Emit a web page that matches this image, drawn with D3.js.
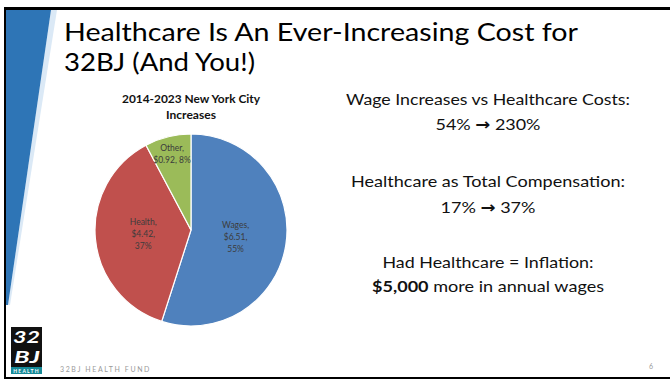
<!DOCTYPE html>
<html lang="en">
<head>
    <meta charset="UTF-8">
    <title>Healthcare Is An Ever-Increasing Cost</title>
    <script src="https://d3js.org/d3.v7.min.js"></script>
    <style>
        body { margin: 0; background: #fff; }
        svg { display: block; font-family: Lato, "Open Sans", sans-serif; }
        .slide-title { font-size: 25px; font-weight: 400; fill: #000; }
        .chart-title { font-size: 10.5px; font-weight: bold; fill: #111; }
        .slice-label { font-size: 8.5px; fill: #3c3c3c; }
        .note { font-size: 16px; fill: #111; }
        .footer { font-size: 7px; fill: #9a9a9a; letter-spacing: 1.6px; }
    </style>
</head>
<body>
    <svg width="670" height="381"></svg>

    <script>
        // pie data
        const categories = ["Wages", "Health", "Other"];
        const amounts = [6.51, 4.42, 0.92];
        const percents = ["55%", "37%", "8%"];
        const colors = ["#4f81bd", "#c0504d", "#9bbb59"];

        const titleLines = ["Healthcare Is An Ever-Increasing Cost for", "32BJ (And You!)"];
        const chartTitle = ["2014-2023 New York City", "Increases"];

        // text blocks on the right ("|" splits bold part, "^" marks the arrow)
        const notes = [
            ["Wage Increases vs Healthcare Costs:", "54% ^ 230%"],
            ["Healthcare as Total Compensation:", "17% ^ 37%"],
            ["Had Healthcare = Inflation:", "$5,000| more in annual wages"]
        ];

        const svg = d3.select("svg");

        // slide frame: top, left and bottom rules
        svg.append("rect").attr("x", 5).attr("y", 7).attr("width", 665).attr("height", 3).attr("fill", "#000");
        svg.append("rect").attr("x", 4).attr("y", 7).attr("width", 2).attr("height", 372).attr("fill", "#000");
        svg.append("rect").attr("x", 4).attr("y", 377).attr("width", 666).attr("height", 2).attr("fill", "#000");

        // blue wedge on the left
        svg.append("polygon")
            .attr("points", "51,10 57,10 10,305 8,305")
            .attr("fill", "#dbe9f6");
        svg.append("polygon")
            .attr("points", "6,10 51,10 8,305 6,305")
            .attr("fill", "#2e75b6");

        // slide title
        const titleW = [514, 191];
        svg.selectAll(".slide-title")
            .data(titleLines)
            .enter().append("text")
            .attr("class", "slide-title")
            .attr("x", 64)
            .attr("y", (d, i) => 41 + i * 30)
            .attr("textLength", (d, i) => titleW[i])
            .attr("lengthAdjust", "spacingAndGlyphs")
            .text(d => d);

        // pie chart
        const cx = 191, cy = 230, radius = 96;
        const g = svg.append("g").attr("transform", `translate(${cx},${cy})`);

        const pie = d3.pie().sort(null).value(d => d.value);
        const rows = categories.map((c, i) => ({name: c, value: amounts[i], pct: percents[i], color: colors[i]}));
        const arcs = pie(rows);
        const arc = d3.arc().innerRadius(0).outerRadius(radius);

        g.selectAll("path")
            .data(arcs)
            .enter().append("path")
            .attr("d", arc)
            .attr("fill", d => d.data.color)
            .attr("stroke", "#fff")
            .attr("stroke-width", 1.2);

        // label distance from centre (fraction of radius), like Excel's best fit
        const labelRadius = {Wages: 0.47, Health: 0.5, Other: 0.82};
        const labelLines = d => d.data.name === "Other"
            ? [d.data.name + ",", "$" + d.data.value.toFixed(2) + ", " + d.data.pct]
            : [d.data.name + ",", "$" + d.data.value.toFixed(2) + ",", d.data.pct];

        arcs.forEach(d => {
            const r = radius * labelRadius[d.data.name];
            const [lx, ly] = d3.arc().innerRadius(r).outerRadius(r).centroid(d);
            const lines = labelLines(d);
            const t = g.append("text")
                .attr("class", "slice-label")
                .attr("text-anchor", "middle")
                .attr("x", lx)
                .attr("y", ly - (lines.length - 1) * 6 + 3);
            lines.forEach((l, i) => {
                t.append("tspan").attr("x", lx).attr("dy", i === 0 ? 0 : 12).text(l);
            });
        });

        const chartTitleW = [138, 50];
        svg.selectAll(".chart-title")
            .data(chartTitle)
            .enter().append("text")
            .attr("class", "chart-title")
            .attr("x", cx)
            .attr("y", (d, i) => 103 + i * 16)
            .attr("text-anchor", "middle")
            .attr("textLength", (d, i) => chartTitleW[i])
            .attr("lengthAdjust", "spacingAndGlyphs")
            .text(d => d);

        // right side notes
        const noteX = 488;
        const noteY = [105, 130, 187, 213, 268, 292];
        const noteW = [284, 105, 274, 95, 211, 232];
        notes.flat().forEach((line, i) => {
            const t = svg.append("text")
                .attr("class", "note")
                .attr("x", noteX)
                .attr("y", noteY[i])
                .attr("text-anchor", "middle")
                .attr("textLength", noteW[i])
                .attr("lengthAdjust", "spacingAndGlyphs");
            if (line.includes("|")) {
                const parts = line.split("|");
                t.append("tspan").attr("font-weight", "bold").text(parts[0]);
                t.append("tspan").text(parts[1]);
            } else if (line.includes("^")) {
                const parts = line.split("^");
                t.append("tspan").text(parts[0]);
                t.append("tspan").attr("font-family", "DejaVu Sans").attr("font-weight", "bold").text("\u2192");
                t.append("tspan").text(parts[1]);
            } else {
                t.text(line);
            }
        });

        // footer logo
        const logo = svg.append("g").attr("transform", "translate(11,327)");
        logo.append("rect").attr("width", 31).attr("height", 40).attr("fill", "#111");
        logo.append("text")
            .attr("x", 2).attr("y", 16)
            .attr("font-size", 17).attr("font-weight", "bold").attr("fill", "#fff")
            .attr("font-style", "italic")
            .attr("textLength", 27).attr("lengthAdjust", "spacingAndGlyphs")
            .text("32");
        logo.append("text")
            .attr("x", 3).attr("y", 36)
            .attr("font-size", 17).attr("font-weight", "bold").attr("fill", "#fff")
            .attr("font-style", "italic")
            .attr("textLength", 26).attr("lengthAdjust", "spacingAndGlyphs")
            .text("BJ");
        logo.append("rect").attr("y", 40).attr("width", 31).attr("height", 7).attr("fill", "#168a98");
        logo.append("text")
            .attr("x", 15.5).attr("y", 45.5)
            .attr("text-anchor", "middle")
            .attr("font-size", 5).attr("font-weight", "bold").attr("fill", "#fff")
            .attr("letter-spacing", 1.2)
            .text("HEALTH");

        svg.append("text")
            .attr("class", "footer")
            .attr("x", 60).attr("y", 372)
            .text("32BJ HEALTH FUND");

        svg.append("text")
            .attr("x", 649).attr("y", 369)
            .attr("font-size", 7).attr("fill", "#9a9a9a")
            .text("6");
    </script>
</body>
</html>
